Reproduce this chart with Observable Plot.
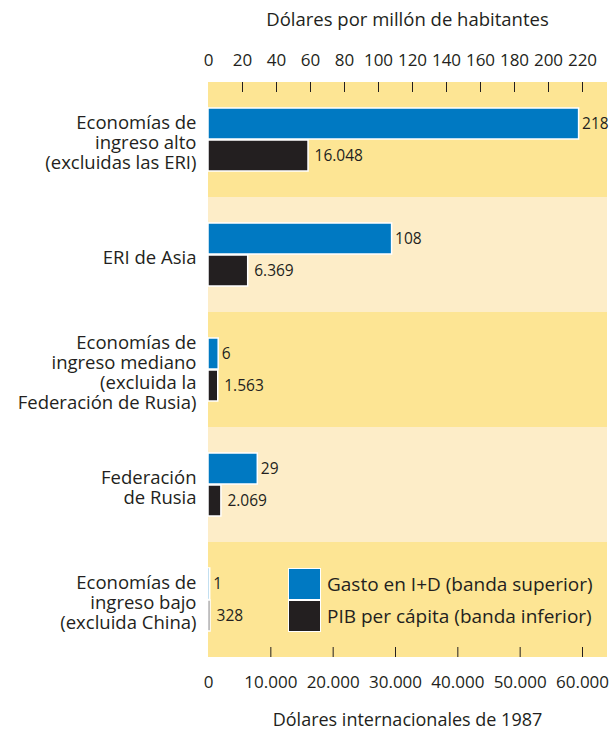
<!DOCTYPE html>
<html><head><meta charset="utf-8">
<script src="https://cdn.jsdelivr.net/npm/d3@7"></script>
<script src="https://cdn.jsdelivr.net/npm/@observablehq/plot@0.6"></script>
<style>
body{margin:0;background:#fff;}
#wrap{position:relative;width:610px;height:731px;font-family:"Open Sans",sans-serif;color:#231f20;}
#wrap svg{position:absolute;left:0;top:0;}
.title{position:absolute;left:208px;width:399px;text-align:center;line-height:20px;white-space:nowrap;}
.legend{position:absolute;left:288px;top:568px;font-size:19px;}
.legend .row{display:flex;align-items:center;height:32px;}
.legend .sw{width:31px;height:30px;border:1px solid #fff;margin-right:6px;box-sizing:content-box;}
</style></head><body><div id="wrap"></div>
<script>
const categories = [
  "Economías de\ningreso alto\n(excluidas las ERI)",
  "ERI de Asia",
  "Economías de\ningreso mediano\n(excluida la\nFederación de Rusia)",
  "Federación\nde Rusia",
  "Economías de\ningreso bajo\n(excluida China)"
];
const rdSpending = [218, 108, 6, 29, 1];          // Gasto en I+D, dólares por millón de habitantes
const gdpPerCapita = [16048, 6369, 1563, 2069, 328]; // PIB per cápita, dólares internacionales de 1987
const topTickLabels = [0, 20, 40, 60, 80, 100, 120, 140, 160, 180, 200, 220];
const bottomTickLabels = [0, 10000, 20000, 30000, 40000, 50000, 60000];
const topTitle = "Dólares por millón de habitantes";
const bottomTitle = "Dólares internacionales de 1987";
const legendItems = ["Gasto en I+D (banda superior)", "PIB per cápita (banda inferior)"];

const BLUE = "#0079c2", BLACK = "#231f20", DARK = "#fde594", LIGHT = "#fdedc8", INK = "#231f20";
const es = d3.formatLocale({decimal: ",", thousands: ".", grouping: [3], currency: ["", " €"]});
const fmt = es.format(",d");

const rows = categories.map((c, i) => ({category: c, rd: rdSpending[i], gdp: gdpPerCapita[i]}));
const topTicks = topTickLabels.filter(d => d > 0);
const bottomTicks = bottomTickLabels.filter(d => d > 0);

const common = {
  width: 610, height: 731,
  marginLeft: 208, marginRight: 3, marginTop: 82, marginBottom: 74,
  y: {domain: categories, padding: 0, axis: null},
  style: {fontFamily: "'Open Sans', sans-serif", color: INK, background: "transparent", overflow: "visible"}
};

const p1 = Plot.plot({
  ...common,
  x: {domain: [0, 220], range: [208, 582], axis: null},
  marks: [
    Plot.cell(categories, {y: d => d, fill: (d, i) => i % 2 ? LIGHT : DARK}),
    Plot.tickX(topTicks, {x: d => d, y: () => categories[0], insetBottom: 105, stroke: INK, strokeWidth: 1}),
    Plot.axisX(topTickLabels, {anchor: "top", tickSize: 0, tickPadding: 17, label: null, fontSize: 17, fill: INK}),
    Plot.axisY({anchor: "left", tickSize: 0, tickPadding: 12, label: null, fontSize: 18.5, lineHeight: 1.08, dy: 3, fill: INK}),
    Plot.barX(rows, {x: "rd", y: "category", insetTop: 26, insetBottom: 58, fill: BLUE, stroke: "#fff", strokeWidth: 1.5}),
    Plot.text(rows, {x: "rd", y: "category", text: d => fmt(d.rd), textAnchor: "start", dx: 3, dy: -16, fontSize: 15.5, fill: INK})
  ]
});

const p2 = Plot.plot({
  ...common,
  x: {domain: [0, 60000], range: [208, 582], axis: null},
  marks: [
    Plot.tickX(bottomTicks, {x: d => d, y: () => categories[categories.length - 1], insetTop: 105, stroke: INK, strokeWidth: 1}),
    Plot.axisX(bottomTickLabels, {anchor: "bottom", tickSize: 0, tickPadding: 18, label: null, fontSize: 17, fill: INK, tickFormat: fmt}),
    Plot.barX(rows, {x: "gdp", y: "category", insetTop: 58, insetBottom: 26, fill: BLACK, stroke: "#fff", strokeWidth: 1.5}),
    Plot.text(rows, {x: "gdp", y: "category", text: d => fmt(d.gdp), textAnchor: "start", dx: 6, dy: 16, fontSize: 15.5, fill: INK})
  ]
});

const wrap = document.getElementById("wrap");
wrap.appendChild(p1);
wrap.appendChild(p2);

const t1 = document.createElement("div");
t1.className = "title"; t1.style.top = "9px"; t1.style.fontSize = "18.5px"; t1.textContent = topTitle;
wrap.appendChild(t1);
const t2 = document.createElement("div");
t2.className = "title"; t2.style.top = "709px"; t2.style.fontSize = "18px"; t2.textContent = bottomTitle;
wrap.appendChild(t2);

const leg = document.createElement("div");
leg.className = "legend";
[BLUE, BLACK].forEach((c, i) => {
  const r = document.createElement("div"); r.className = "row";
  const s = document.createElement("div"); s.className = "sw"; s.style.background = c;
  const t = document.createElement("span"); t.textContent = legendItems[i];
  r.appendChild(s); r.appendChild(t); leg.appendChild(r);
});
wrap.appendChild(leg);
</script>
</body></html>
